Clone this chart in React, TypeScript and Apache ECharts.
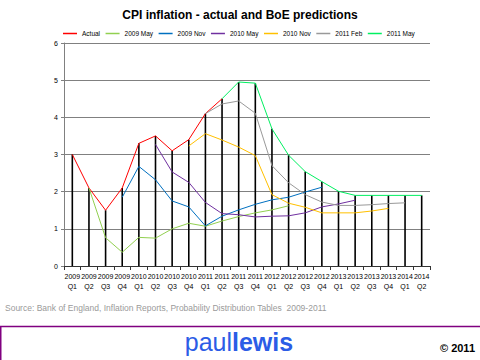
import React, { useEffect, useRef } from "react";
import * as echarts from "echarts";

const categories = [
  "2009\nQ1", "2009\nQ2", "2009\nQ3", "2009\nQ4",
  "2010\nQ1", "2010\nQ2", "2010\nQ3", "2010\nQ4",
  "2011\nQ1", "2011\nQ2", "2011\nQ3", "2011\nQ4",
  "2012\nQ1", "2012\nQ2", "2012\nQ3", "2012\nQ4",
  "2013\nQ1", "2013\nQ2", "2013\nQ3", "2013\nQ4",
  "2014\nQ1", "2014\nQ2",
];

const yTicks = [0, 1, 2, 3, 4, 5, 6];

const _ = null;
const actual = [3.0, 2.1, 1.5, 2.1, 3.3, 3.5, 3.1, 3.4, 4.1, 4.5, _, _, _, _, _, _, _, _, _, _, _, _];
const may2009 = [_, 2.1, 0.76, 0.37, 0.77, 0.75, 1.0, 1.15, 1.07, 1.21, 1.33, 1.43, 1.51, 1.62, _, _, _, _, _, _, _, _];
const nov2009 = [_, _, _, 1.85, 2.68, 2.32, 1.75, 1.59, 1.08, 1.34, 1.51, 1.66, 1.78, 1.85, 1.99, 2.12, _, _, _, _, _, _];
const may2010 = [_, _, _, _, _, 3.27, 2.53, 2.25, 1.71, 1.41, 1.38, 1.32, 1.34, 1.35, 1.43, 1.59, 1.67, 1.77, _, _, _, _];
const nov2010 = [_, _, _, _, _, _, _, 3.23, 3.56, 3.39, 3.2, 2.97, 1.92, 1.69, 1.58, 1.43, 1.43, 1.43, 1.48, 1.55, _, _];
const feb2011 = [_, _, _, _, _, _, _, _, 4.1, 4.36, 4.44, 4.11, 2.7, 2.24, 1.92, 1.72, 1.63, 1.63, 1.65, 1.68, 1.7, _];
const may2011 = [_, _, _, _, _, _, _, _, _, 4.5, 4.95, 4.92, 3.69, 2.98, 2.54, 2.27, 2.01, 1.9, 1.9, 1.9, 1.9, 1.9];

const seriesNames = ["Actual", "2009 May", "2009 Nov", "2010 May", "2010 Nov", "2011 Feb", "2011 May"];
const seriesData = [actual, may2009, nov2009, may2010, nov2010, feb2011, may2011];
const seriesColors = ["#FF0000", "#92D050", "#0070C0", "#7030A0", "#FFC000", "#999999", "#00F060"];

export default function App() {
  const ref = useRef<HTMLDivElement>(null);
  useEffect(() => {
    const chart = echarts.init(ref.current!, null, { renderer: "svg" });
    const dropValues = categories.map((_c, i) => {
      const vals = seriesData.map((s) => s[i]).filter((v) => v !== null) as number[];
      return vals.length ? Math.max(...vals) : null;
    });
    const font = "Liberation Sans, Arial, sans-serif";
    chart.setOption({
      animation: false,
      backgroundColor: "#ffffff",
      textStyle: { fontFamily: font },
      title: {
        text: "CPI inflation - actual and BoE predictions",
        left: "center",
        top: 4,
        textStyle: { fontSize: 12, fontWeight: "bold", color: "#000", fontFamily: font },
      },
      legend: {
        data: seriesNames,
        left: 58,
        width: 400,
        top: 25,
        icon: "rect",
        itemWidth: 14,
        itemHeight: 1.5,
        itemGap: 5.5,
        textStyle: { fontSize: 6.5, color: "#000", fontFamily: font },
      },
      grid: { left: 64, right: 50, top: 43, bottom: 94, containLabel: false },
      xAxis: {
        type: "category",
        data: categories,
        boundaryGap: true,
        axisLine: { lineStyle: { color: "#333", width: 1 } },
        axisTick: { show: true, alignWithLabel: false, length: 4, lineStyle: { color: "#333" } },
        axisLabel: { interval: 0, fontSize: 7, color: "#000", margin: 5, lineHeight: 10, fontFamily: font },
      },
      yAxis: {
        type: "value",
        min: yTicks[0],
        max: yTicks[yTicks.length - 1],
        interval: 1,
        axisLine: { show: true, lineStyle: { color: "#808080" } },
        axisTick: { show: true, length: 3, lineStyle: { color: "#808080" } },
        axisLabel: { fontSize: 7, color: "#000", margin: 6, fontFamily: font },
        splitLine: { show: true, lineStyle: { color: "#808080", width: 1 } },
      },
      series: [
        {
          name: "drop",
          type: "bar",
          data: dropValues,
          barWidth: 1.6,
          itemStyle: { color: "#000" },
          silent: true,
          z: 1,
        },
        ...seriesNames.map((name, k) => ({
          name,
          type: "line",
          data: seriesData[k],
          symbol: "none",
          connectNulls: false,
          lineStyle: { color: seriesColors[k], width: 1 },
          itemStyle: { color: seriesColors[k] },
          z: 2,
        })),
      ],
      graphic: [
        {
          type: "text",
          left: 5,
          top: 303,
          style: {
            text: "Source: Bank of England, Inflation Reports, Probability Distribution Tables  2009-2011",
            fill: "#9a9a9a",
            fontSize: 8.5,
            fontFamily: font,
          },
        },
        {
          type: "rect",
          shape: { x: 0.75, y: 326.5, width: 500, height: 60 },
          style: { fill: "#ffffff", stroke: "#800080", lineWidth: 1.5 },
        },
        {
          type: "text",
          x: 232,
          y: 342,
          style: {
            text: "paul",
            fill: "#2b5ce6",
            fontSize: 25,
            fontFamily: font,
            align: "right",
            verticalAlign: "middle",
          },
        },
        {
          type: "text",
          x: 232,
          y: 342,
          style: {
            text: "lewis",
            fill: "#2b5ce6",
            fontSize: 25,
            fontWeight: "bold",
            fontFamily: font,
            align: "left",
            verticalAlign: "middle",
          },
        },
        {
          type: "text",
          x: 475,
          y: 348,
          style: {
            text: "© 2011",
            fill: "#000",
            fontSize: 11,
            fontWeight: "bold",
            fontFamily: font,
            align: "right",
            verticalAlign: "middle",
          },
        },
      ],
    });
    return () => chart.dispose();
  }, []);
  return <div ref={ref} style={{ width: 480, height: 360, position: "absolute", left: 0, top: 0 }} />;
}
